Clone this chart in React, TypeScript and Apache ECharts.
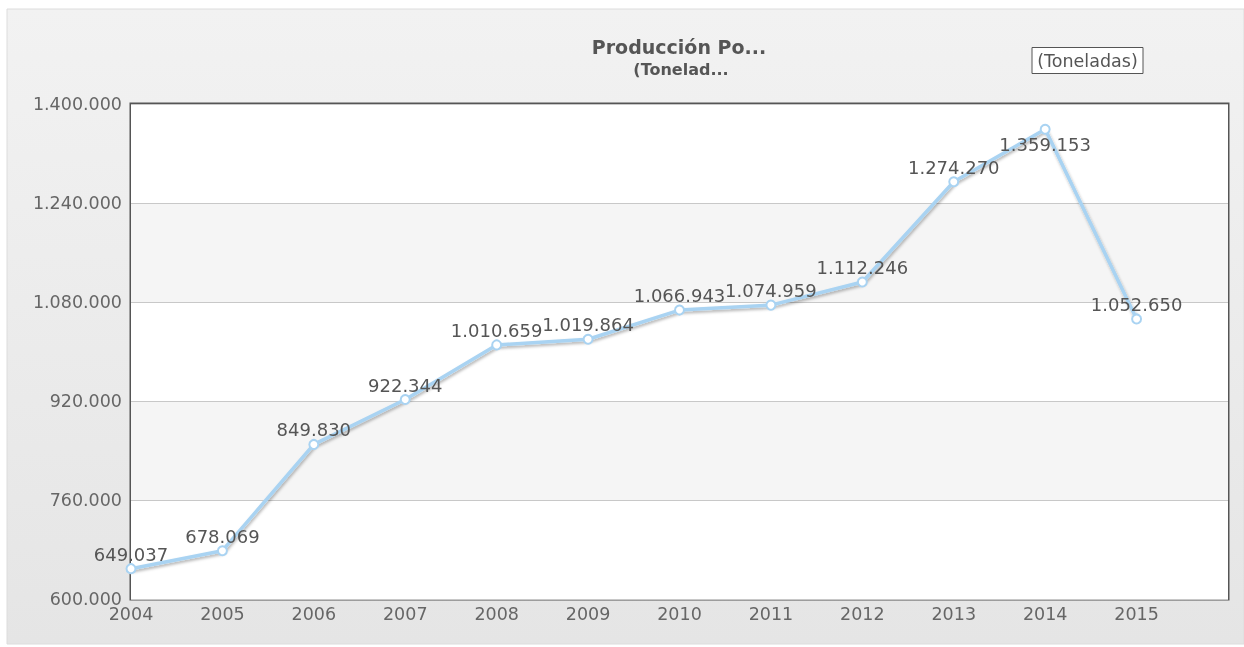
import React, { useEffect, useRef } from "react";
import * as echarts from "echarts";

const years = [2004, 2005, 2006, 2007, 2008, 2009, 2010, 2011, 2012, 2013, 2014, 2015];
const production = [649037, 678069, 849830, 922344, 1010659, 1019864, 1066943, 1074959, 1112246, 1274270, 1359153, 1052650];
const titleText = "Producción Po...";
const subtitleText = "(Tonelad...";
const unitText = "(Toneladas)";

const FONT = "Verdana, 'DejaVu Sans', sans-serif";

function fmt(v: number): string {
  return Math.round(v).toString().replace(/\B(?=(\d{3})+(?!\d))/g, ".");
}

export default function App() {
  const ref = useRef<HTMLDivElement>(null);
  useEffect(() => {
    if (!ref.current) return;
    const chart = echarts.init(ref.current, undefined, { renderer: "svg" });
    const maxIdx = production.indexOf(Math.max(...production));
    chart.setOption({
      animation: false,
      textStyle: { fontFamily: FONT },
      graphic: [
        {
          type: "rect",
          z: -10,
          shape: { x: 7, y: 9, width: 1237, height: 635 },
          style: {
            fill: new echarts.graphic.LinearGradient(0, 0, 0, 1, [
              { offset: 0, color: "#f2f2f2" },
              { offset: 1, color: "#e5e5e5" },
            ]),
            stroke: "#dcdcdc",
            lineWidth: 1,
          },
        },
        {
          type: "text",
          x: 679,
          y: 47,
          style: { text: titleText, fill: "#555", font: `bold 19px ${FONT}`, align: "center", verticalAlign: "middle" },
        },
        {
          type: "text",
          x: 681,
          y: 69,
          style: { text: subtitleText, fill: "#555", font: `bold 16px ${FONT}`, align: "center", verticalAlign: "middle" },
        },
        {
          type: "rect",
          shape: { x: 1032, y: 47.5, width: 111, height: 26 },
          style: { fill: "#fff", stroke: "#555", lineWidth: 1 },
        },
        {
          type: "text",
          x: 1087.5,
          y: 61,
          style: { text: unitText, fill: "#555", font: `17.5px ${FONT}`, align: "center", verticalAlign: "middle" },
        },
      ],
      grid: {
        left: 131,
        top: 104,
        width: 1097,
        height: 495,
        show: true,
        backgroundColor: "#fff",
        borderColor: "#555",
        borderWidth: 3,
      },
      xAxis: {
        type: "value",
        min: 2004,
        max: 2016,
        interval: 1,
        axisLine: { show: false },
        axisTick: { show: false },
        splitLine: { show: false },
        axisLabel: {
          color: "#666",
          fontSize: 17.5,
          margin: 6,
          formatter: (v: number) => (v >= 2016 ? "" : String(v)),
        },
      },
      yAxis: {
        type: "value",
        min: 600000,
        max: 1400000,
        interval: 160000,
        axisLine: { show: false },
        axisTick: { show: false },
        axisLabel: { color: "#666", fontSize: 17.5, margin: 9, padding: [3, 0, 0, 0], formatter: (v: number) => fmt(v) },
        splitLine: { show: true, lineStyle: { color: "#c8c8c8", width: 1 } },
        splitArea: { show: true, areaStyle: { color: ["#ffffff", "#f5f5f5"] } },
      },
      series: [
        {
          type: "line",
          data: years.map((y, i) =>
            i === maxIdx
              ? { value: [y, production[i]], label: { position: "bottom", distance: 1 } }
              : [y, production[i]]
          ),
          symbol: "circle",
          symbolSize: 9,
          lineStyle: {
            color: "#a9d3f2",
            width: 3.5,
            shadowColor: "rgba(0,0,0,0.3)",
            shadowBlur: 3,
            shadowOffsetX: 1,
            shadowOffsetY: 2,
          },
          itemStyle: { color: "#ffffff", borderColor: "#a9d3f2", borderWidth: 2 },
          label: {
            show: true,
            position: "top",
            distance: 0,
            color: "#555",
            fontSize: 18,
            formatter: (p: any) => fmt(p.value[1]),
          },
          z: 5,
        },
      ],
    });
    return () => chart.dispose();
  }, []);
  return <div ref={ref} style={{ position: "fixed", left: 0, top: 0, width: 1244, height: 647 }} />;
}
